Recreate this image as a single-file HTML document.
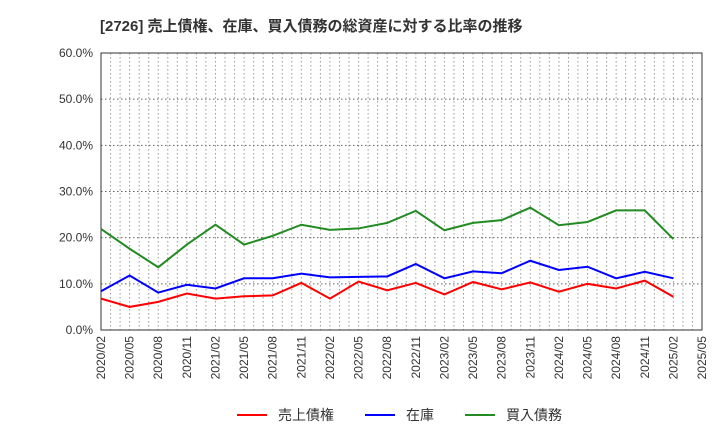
<!DOCTYPE html>
<html><head><meta charset="utf-8"><style>
body{margin:0;background:#fff;font-family:"Liberation Sans","Noto Sans CJK JP",sans-serif;}
</style></head><body>
<svg id="chart" width="720" height="440" xmlns="http://www.w3.org/2000/svg" font-family="Liberation Sans, Noto Sans CJK JP, sans-serif">
<text x="100" y="31" font-size="15" font-weight="bold" fill="#333">[2726]  売上債権、在庫、買入債務の総資産に対する比率の推移</text>
<g id="grid"></g><g id="axes"></g><g id="series"></g>
<g font-size="14" fill="#333">
<line x1="237" y1="415" x2="267" y2="415" stroke="#f00" stroke-width="2"/><text x="278" y="420">売上債権</text>
<line x1="365" y1="415" x2="395" y2="415" stroke="#00f" stroke-width="2"/><text x="406" y="420">在庫</text>
<line x1="465" y1="415" x2="495" y2="415" stroke="#228b22" stroke-width="2"/><text x="506" y="420">買入債務</text>
</g>
</svg>
<script>
const categories=["2020/02","2020/05","2020/08","2020/11","2021/02","2021/05","2021/08","2021/11","2022/02","2022/05","2022/08","2022/11","2023/02","2023/05","2023/08","2023/11","2024/02","2024/05","2024/08","2024/11","2025/02","2025/05"];
const receivables=[6.8,5.0,6.1,7.9,6.8,7.3,7.5,10.2,6.8,10.5,8.6,10.2,7.7,10.4,8.8,10.3,8.3,10.0,9.0,10.7,7.2];
const inventory=[8.4,11.8,8.1,9.8,9.0,11.2,11.2,12.2,11.4,11.5,11.6,14.3,11.2,12.7,12.3,15.0,13.0,13.7,11.2,12.6,11.2];
const payables=[21.9,17.6,13.6,18.5,22.8,18.5,20.4,22.8,21.7,22.0,23.2,25.8,21.6,23.2,23.8,26.5,22.7,23.4,25.9,25.9,19.7];
const yTicks=[0,10,20,30,40,50,60];
const L=101,R=702,T=53,B=330,NS="http://www.w3.org/2000/svg";
const x=i=>L+(R-L)*i/(categories.length-1);
const y=v=>B-(B-T)*v/60;
function mk(p,t,a){const e=document.createElementNS(NS,t);for(const k in a)e.setAttribute(k,a[k]);p.appendChild(e);return e;}
const g=document.getElementById('grid'),ax=document.getElementById('axes'),s=document.getElementById('series');
for(let m=1;m<(categories.length-1)*3;m++){const xx=L+(R-L)*m/((categories.length-1)*3);
const l=mk(g,'line',{x1:xx,x2:xx,y1:T,y2:B,stroke:'#999','stroke-dasharray':'1.5,2.5','stroke-width':1});

}
yTicks.forEach(v=>{const l=mk(g,'line',{x1:L,x2:R,y1:y(v),y2:y(v),stroke:'#666','stroke-dasharray':'1.5,2.5'});


const t=mk(ax,'text',{x:L-8,y:y(v)+4,'text-anchor':'end','font-size':12,fill:'#333'});t.textContent=v.toFixed(1)+'%';

});
const fr=mk(ax,'rect',{x:L,y:T,width:R-L,height:B-T,fill:'none',stroke:'#333'});


categories.forEach((c,i)=>{const t=mk(ax,'text',{transform:`translate(${x(i)+4},${B+6}) rotate(-90)`,'text-anchor':'end','font-size':12,fill:'#333'});t.textContent=c;

});
[[receivables,'#f00','receivables-line'],[inventory,'#00f','inventory-line'],[payables,'#228b22','payables-line']].forEach(([d,c,n])=>{
const p=mk(s,'polyline',{points:d.map((v,i)=>x(i)+','+y(v)).join(' '),fill:'none',stroke:c,'stroke-width':2});

});
</script>
</body></html>
